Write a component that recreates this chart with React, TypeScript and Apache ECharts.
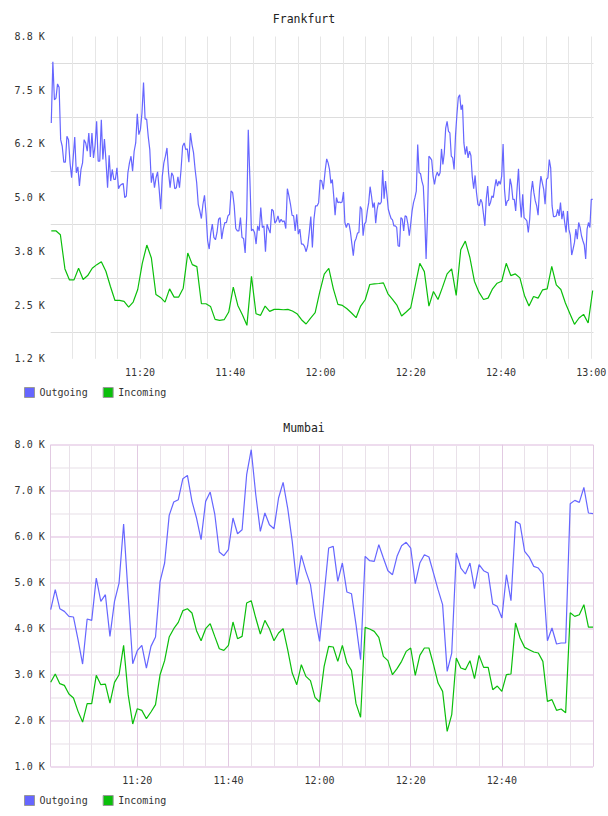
import { useEffect, useRef } from 'react';
import * as echarts from 'echarts';

// Time is measured in minutes after 11:00.
// Frankfurt outgoing traffic, sampled at two different rates in each hour.
const frankfurtOutgoingFirstHour = [
  6736, 8164, 7276, 7315, 7647, 7569, 6350, 6196, 5826, 5826,
  6427, 6350, 5810, 5463, 5926, 6412, 5579, 5718, 5270, 5656,
  5810, 6350, 6273, 6080, 6505, 5949, 6505, 5926, 6211, 6775,
  5849, 5849, 6813, 5887, 6366, 5849, 5232, 5988, 5386, 5656,
  5424, 5424, 5695, 5208, 5285, 5309, 5332, 5000, 5039, 5579,
  5810, 5964, 5617, 6080, 6273, 6952, 6466, 6582, 6968, 7677,
  6829, 6829, 6427, 6119, 5347, 5579, 5232, 5463, 5602, 5193,
  4730, 5502, 5810, 5964, 6157, 5579, 5232, 5579, 5502, 5208,
  5232, 5486, 5232, 5656, 6196, 6273, 6119, 6134, 5826, 6505,
  6235, 6042, 5656, 5347, 4846, 4691, 4514, 4846, 5054, 4614,
  3997, 3804, 4175, 4383, 4074, 4020, 4190, 4498, 4537, 4036,
  4267, 4421, 4421, 4576, 4614, 5154, 5116, 4807, 4282, 4228,
  4228, 4537, 4074, 4051, 3712, 4576, 6582, 5463, 4228, 4267,
  4190, 3920, 4344, 4228, 4768, 4306, 4344, 3742, 4383, 4267,
  4175, 4730, 4691, 4406, 4460, 4576, 4421, 4498, 4437, 4460,
  4282, 5208, 5039, 4846, 4591, 4576, 4228, 4614, 4151, 4267,
  3920, 3920, 3866, 3742, 3881, 4190, 4560, 3843, 4498, 4807,
  4807, 4884, 5409, 5386, 5193,
];
const frankfurtOutgoingFirstSpan = [0.33, 60.62];

const frankfurtOutgoingSecondHour = [
  5656, 5903, 5810, 5656, 5332, 5424, 5039, 4591, 5000, 4884,
  4900, 4884, 4900, 5131, 4421, 4306, 4398, 4383, 4190, 3920,
  3650, 3974, 4051, 4175, 4190, 4792, 4730, 4113, 4383, 4437,
  4691, 4884, 5255, 5039, 4768, 4884, 4406, 4730, 4884, 4846,
  4900, 5640, 4977, 5386, 5077, 4730, 4614, 4514, 4483, 4344,
  4344, 4306, 3881, 3866, 4537, 4498, 4228, 4576, 4560, 4383,
  4113, 4383, 4691, 4884, 5000, 5154, 6235, 5579, 5563, 5386,
  5270, 4576, 3572, 4576, 5964, 5926, 5872, 5502, 5309, 5502,
  5594, 5502, 5579, 6134, 5772, 6042, 6620, 6775, 6543, 6505,
  5964, 5926, 5656, 6443, 6929, 7330, 7392, 7045, 7161, 6273,
  6003, 6196, 5926, 6080, 5980, 5486, 5208, 5517, 5116, 4846,
  4807, 4961, 4884, 4614, 4344, 4977, 5270, 4807, 4884, 5039,
  5000, 5232, 5424, 5270, 5386, 5309, 5502, 6250, 5193, 4807,
  4923, 4946, 5440, 5285, 4961, 4961, 4691, 5208, 5671, 4961,
  4537, 5077, 4537, 4498, 4460, 4190, 4498, 5116, 5386, 5116,
  4923, 4807, 4591, 5193, 5502, 5347, 5193, 4846, 5424, 5463,
  5887, 5695, 4807, 4560, 4560, 4576, 4730, 4576, 4884, 4498,
  4691, 4421, 4190, 4691, 4267, 4128, 3665, 3804, 3958, 4267,
  4036, 4421, 4306, 4113, 3997, 3897, 3572, 4267, 4421, 4306,
  4961, 4961,
];
const frankfurtOutgoingSecondSpan = [61.06, 120.32];

const frankfurtIncoming = [
  4228, 4228, 4136, 3341, 3086, 3086, 3357, 3094, 3187, 3357,
  3441, 3511, 3287, 2932, 2608, 2608, 2585, 2454, 2570, 2863,
  3472, 3897, 3596, 2747, 2678, 2570, 2878, 2686, 2686, 2894,
  3712, 3441, 3395, 2531, 2531, 2469, 2168, 2145, 2160, 2338,
  2917, 2492, 2276, 2029, 3171, 2299, 2261, 2477, 2353, 2400,
  2400, 2392, 2400, 2361, 2299, 2160, 2060, 2199, 2323, 2801,
  3220, 3357, 2878, 2516, 2492, 2415, 2315, 2207, 2477, 2624,
  2979, 2994, 3002, 3017, 2762, 2631, 2492, 2245, 2338, 2438,
  2955, 3472, 3279, 2477, 2817, 2631, 2917, 3225, 3341, 2724,
  3789, 3989, 3611, 3055, 2801, 2631, 2662, 2878, 3009, 3055,
  3472, 3187, 3225, 3133, 2724, 2477, 2701, 2662, 2855, 2878,
  3403, 2971, 2863, 2547, 2299, 2052, 2199, 2284, 2083, 2840,
];
const frankfurtIncomingSpan = [0.33, 120.32];

const mumbaiOutgoing = [
  4413, 4848, 4435, 4377, 4268, 4254, 3761, 3232, 4210, 4181,
  5102, 4594, 4739, 3834, 4594, 4993, 6275, 4739, 3239, 3522,
  3638, 3145, 3616, 3819, 5029, 5428, 6464, 6754, 6804, 7261,
  7333, 6768, 6406, 5935, 6768, 6971, 6493, 5667, 5587, 5718,
  6406, 6065, 6152, 7348, 7891, 6913, 6116, 6515, 6261, 6174,
  6841, 7181, 6623, 5899, 4957, 5594, 5247, 4957, 4268, 3725,
  4739, 5754, 5790, 5029, 5428, 4797, 4761, 4087, 3326, 5573,
  5478, 5464, 5826, 5536, 5261, 5174, 5573, 5805, 5877, 5754,
  4978, 5428, 5609, 5558, 5210, 4848, 4522, 3073, 3471, 5645,
  5319, 5189, 5428, 4870, 5391, 5261, 5210, 4536, 4486, 4232,
  5174, 4609, 6333, 6275, 5681, 5558, 5355, 5319, 5189, 3739,
  4015, 3667, 3689, 3689, 6717, 6790, 6746, 7073, 6515, 6500,
];
const mumbaiIncoming = [
  2834, 3015, 2805, 2768, 2580, 2493, 2203, 1971, 2370, 2370,
  2986, 2783, 2797, 2384, 2834, 3000, 3638, 2566, 1928, 2261,
  2225, 2044, 2189, 2348, 3000, 3305, 3819, 4000, 4138, 4392,
  4435, 4341, 3957, 3739, 4000, 4109, 3833, 3565, 3529, 3638,
  4145, 3783, 3833, 4558, 4609, 4232, 3884, 4181, 4000, 3739,
  3906, 4000, 3544, 3036, 2783, 3218, 2964, 2870, 2507, 2406,
  3181, 3616, 3602, 3290, 3638, 3254, 3094, 2370, 2073, 4029,
  3993, 3942, 3812, 3399, 3305, 3000, 3131, 3290, 3507, 3580,
  2986, 3420, 3580, 3580, 3218, 2819, 2638, 1768, 2131, 3362,
  3145, 3109, 3305, 2913, 3420, 3160, 3160, 2674, 2754, 2638,
  3000, 3015, 4123, 3797, 3594, 3544, 3493, 3471, 3290, 2420,
  2457, 2225, 2254, 2174, 4348, 4268, 4304, 4522, 4036, 4036,
];
const mumbaiSpan = [1, 120];

const frankfurtValueTicks = ['1.2 K', '2.5 K', '3.8 K', '5.0 K', '6.2 K', '7.5 K', '8.8 K'];
const mumbaiValueTicks = ['1.0 K', '2.0 K', '3.0 K', '4.0 K', '5.0 K', '6.0 K', '7.0 K', '8.0 K'];
const frankfurtTimeTicks = ['11:20', '11:40', '12:00', '12:20', '12:40', '13:00'];
const mumbaiTimeTicks = ['11:20', '11:40', '12:00', '12:20', '12:40'];
const seriesNames = ['Outgoing', 'Incoming'];

const BLUE = '#6666ff';
const GREEN = '#0bbf0b';
const MONO = '"DejaVu Sans Mono", "Liberation Mono", monospace';
const TEXT = '#333333';
const PINK = '#e2cae2';
const PINK_H = '#eedcee';
const SOFT_V = '#e9e1e9';
const SOFT_H = '#f3eff3';

// Evenly spaced sample times across a span.
function spread(values: number[], span: number[]): [number, number][] {
  const step = (span[1] - span[0]) / (values.length - 1);
  return values.map((v, i) => [span[0] + i * step, v]);
}

function clock(m: number): string {
  const h = 11 + Math.floor(m / 60);
  const mm = m % 60;
  return `${h}:${String(mm).padStart(2, '0')}`;
}

function timeFormatter(labels: string[]) {
  return (v: number) => {
    const m = Math.round(v);
    if (Math.abs(v - m) > 1e-6 || m % 20 !== 0) return '';
    const t = clock(m);
    return labels.includes(t) ? t : '';
  };
}

function valueFormatter(labels: string[], base: number, step: number) {
  return (v: number) => labels[Math.round((v - base) / step)] ?? '';
}

const labelStyle = { fontFamily: MONO, fontSize: 10, color: TEXT };

function legendAt(top: number) {
  return {
    left: 24,
    top,
    padding: 0,
    orient: 'horizontal',
    icon: 'rect',
    itemWidth: 10,
    itemHeight: 10,
    itemGap: 15,
    selectedMode: false,
    data: seriesNames,
    itemStyle: { borderColor: '#999999', borderWidth: 1 },
    textStyle: { fontFamily: MONO, fontSize: 10, color: TEXT },
  };
}

function line(name: string, color: string, data: [number, number][], index: number) {
  return {
    type: 'line',
    name,
    xAxisIndex: index,
    yAxisIndex: index,
    data,
    symbol: 'none',
    showSymbol: false,
    silent: true,
    color,
    lineStyle: { color, width: 1.2 },
    itemStyle: { color },
  };
}

export default function App() {
  const ref = useRef<HTMLDivElement>(null);

  useEffect(() => {
    if (!ref.current) return;
    const chart = echarts.init(ref.current, undefined, { renderer: 'svg' });
    chart.setOption({
      animation: false,
      backgroundColor: '#ffffff',
      title: [
        { text: 'Frankfurt', left: 'center', top: 13, padding: 0, textStyle: { fontFamily: MONO, fontSize: 11.5, fontWeight: 'normal', color: '#222' } },
        { text: 'Mumbai', left: 'center', top: 422, padding: 0, textStyle: { fontFamily: MONO, fontSize: 11.5, fontWeight: 'normal', color: '#222' } },
      ],
      legend: [legendAt(387), legendAt(795)],
      grid: [
        { left: 50.7, top: 36.5, width: 542.8, height: 322.3, outerBoundsMode: 'none' },
        { left: 50.7, top: 444.7, width: 542.3, height: 322, outerBoundsMode: 'none' },
      ],
      xAxis: [
        {
          gridIndex: 0,
          type: 'value',
          min: 0.2,
          max: 120.5,
          splitNumber: 24,
          axisLine: { show: false },
          axisTick: { show: false },
          axisLabel: { ...labelStyle, margin: 9, formatter: timeFormatter(frankfurtTimeTicks) },
          splitLine: { show: true, showMinLine: false, showMaxLine: false, lineStyle: { color: '#e6e6e6', width: 1 } },
        },
        {
          gridIndex: 1,
          type: 'value',
          min: 1,
          max: 120,
          splitNumber: 24,
          axisLine: { show: false },
          axisTick: { show: false },
          axisLabel: { ...labelStyle, margin: 9, formatter: timeFormatter(mumbaiTimeTicks) },
          splitLine: { show: true, lineStyle: { color: [PINK, SOFT_V, SOFT_V, SOFT_V], width: 1 } },
        },
      ],
      yAxis: [
        {
          gridIndex: 0,
          type: 'value',
          min: 1250,
          max: 8750,
          interval: 1250,
          axisLine: { show: false },
          axisTick: { show: false },
          axisLabel: { ...labelStyle, margin: 6, formatter: valueFormatter(frankfurtValueTicks, 1250, 1250) },
          splitLine: { show: false },
          minorTick: { show: false, splitNumber: 2 },
          minorSplitLine: { show: true, lineStyle: { color: '#dddddd', width: 1 } },
        },
        {
          gridIndex: 1,
          type: 'value',
          min: 1000,
          max: 8000,
          interval: 1000,
          axisLine: { show: false },
          axisTick: { show: false },
          axisLabel: { ...labelStyle, margin: 6, formatter: valueFormatter(mumbaiValueTicks, 1000, 1000) },
          splitLine: { show: true, lineStyle: { color: PINK_H, width: 2 } },
          minorTick: { show: false, splitNumber: 2 },
          minorSplitLine: { show: true, lineStyle: { color: SOFT_H, width: 2 } },
        },
      ],
      series: [
        line('Outgoing', BLUE, [
          ...spread(frankfurtOutgoingFirstHour, frankfurtOutgoingFirstSpan),
          ...spread(frankfurtOutgoingSecondHour, frankfurtOutgoingSecondSpan),
        ], 0),
        line('Incoming', GREEN, spread(frankfurtIncoming, frankfurtIncomingSpan), 0),
        line('Outgoing', BLUE, spread(mumbaiOutgoing, mumbaiSpan), 1),
        line('Incoming', GREEN, spread(mumbaiIncoming, mumbaiSpan), 1),
      ],
    });
    return () => chart.dispose();
  }, []);

  return (
    <div
      ref={ref}
      style={{ position: 'absolute', left: 0, top: 0, width: 608, height: 816 }}
    />
  );
}
